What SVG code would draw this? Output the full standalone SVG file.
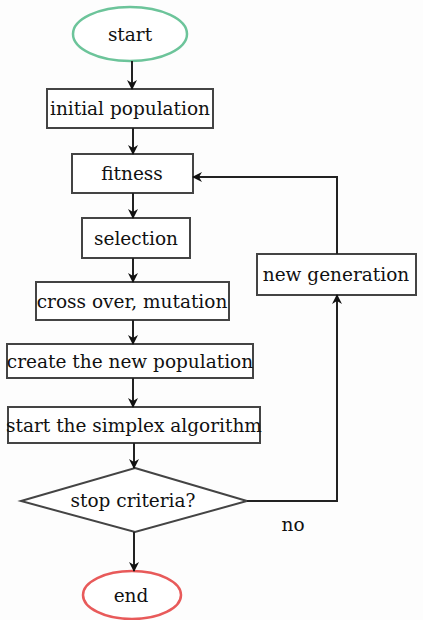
<svg xmlns="http://www.w3.org/2000/svg" width="423" height="620" viewBox="0 0 423 620">
<defs>
<marker id="ah" markerWidth="10" markerHeight="10" refX="9" refY="5" orient="auto" markerUnits="userSpaceOnUse">
<path d="M0,0 L10,5 L0,10 L3,5 Z" fill="#111"/>
</marker>
<style>
.box{fill:#fff;stroke:#444;stroke-width:2}
.t{font-family:"DejaVu Serif","Liberation Serif",serif;font-size:18.5px;fill:#111;text-anchor:middle;dominant-baseline:central}
.c{fill:none;stroke:#222;stroke-width:2}
</style>
</defs>
<rect width="423" height="620" fill="#fdfdfd"/>
<g id="start"><ellipse cx="130" cy="34" rx="57" ry="27" fill="#fff" stroke="#6cc49a" stroke-width="2.5"/><text class="t" x="130" y="34">start</text></g>
<g id="initial"><rect class="box" x="47" y="89" width="166" height="39"/><text class="t" x="130" y="108.5">initial population</text></g>
<g id="fitness"><rect class="box" x="72" y="154" width="121" height="39"/><text class="t" x="132" y="173.5">fitness</text></g>
<g id="selection"><rect class="box" x="82" y="218" width="108" height="40"/><text class="t" x="136" y="238">selection</text></g>
<g id="cross"><rect class="box" x="36" y="282" width="193" height="38"/><text class="t" x="132" y="301">cross over, mutation</text></g>
<g id="create"><rect class="box" x="7" y="344" width="246" height="34"/><text class="t" x="130" y="361">create the new population</text></g>
<g id="simplex"><rect class="box" x="8" y="407" width="252" height="36"/><text class="t" x="134" y="425">start the simplex algorithm</text></g>
<g id="stop"><polygon class="box" points="135,468 247,501 135,532 21,501"/><text class="t" x="133" y="500">stop criteria?</text></g>
<g id="newgen"><rect class="box" x="257" y="254" width="159" height="41"/><text class="t" x="336" y="274.5">new generation</text></g>
<g id="end"><ellipse cx="132" cy="595" rx="49" ry="24" fill="#fff" stroke="#e85a5a" stroke-width="2.5"/><text class="t" x="131" y="595">end</text></g>
<g id="connectors">
<line class="c" x1="132" y1="61" x2="132" y2="89" marker-end="url(#ah)"/>
<line class="c" x1="133" y1="128" x2="133" y2="154" marker-end="url(#ah)"/>
<line class="c" x1="133" y1="193" x2="133" y2="218" marker-end="url(#ah)"/>
<line class="c" x1="133" y1="258" x2="133" y2="282" marker-end="url(#ah)"/>
<line class="c" x1="133" y1="320" x2="133" y2="344" marker-end="url(#ah)"/>
<line class="c" x1="133" y1="378" x2="133" y2="407" marker-end="url(#ah)"/>
<line class="c" x1="134" y1="443" x2="134" y2="468" marker-end="url(#ah)"/>
<line class="c" x1="134" y1="532" x2="134" y2="571" marker-end="url(#ah)"/>
<polyline class="c" points="247,501 337,501 337,295" marker-end="url(#ah)"/>
<polyline class="c" points="337,254 337,177 193,177" marker-end="url(#ah)"/>
<text class="t" x="293" y="524">no</text>
</g>
</svg>
